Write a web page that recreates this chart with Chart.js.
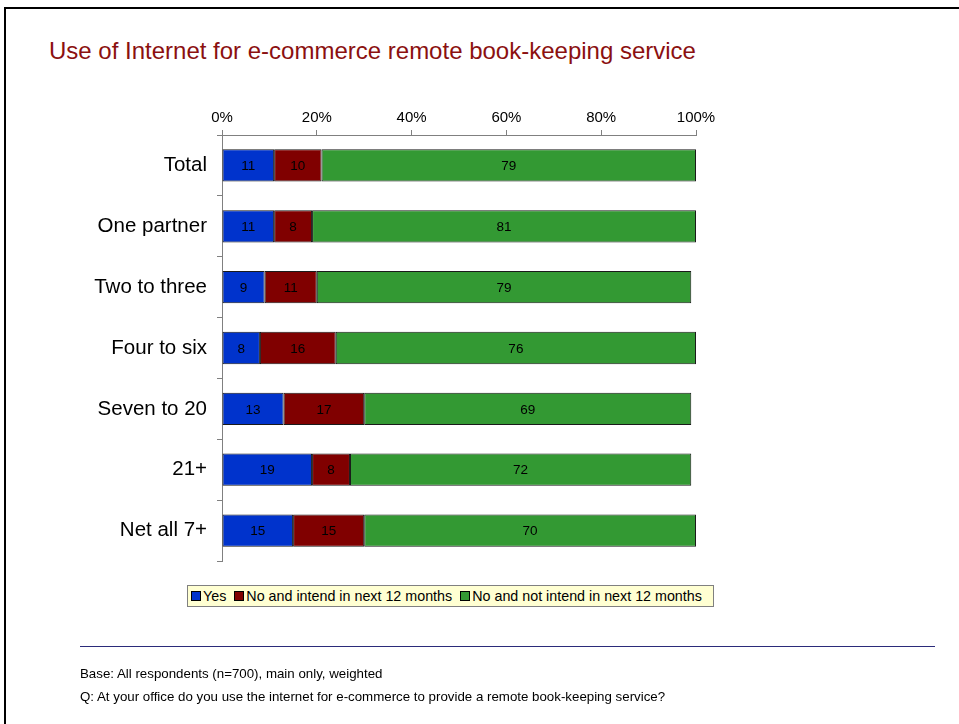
<!DOCTYPE html>
<html>
<head>
<meta charset="utf-8">
<script src="https://cdn.jsdelivr.net/npm/chart.js@4.4.1/dist/chart.umd.min.js"></script>
<style>
  body { margin: 0; background: #fff; font-family: Arial, "Liberation Sans", sans-serif; }
  #page { position: relative; width: 959px; height: 724px; overflow: hidden; }
  #frame { position: absolute; left: 4px; top: 7px; width: 970px; height: 730px;
           border-left: 2px solid #000; border-top: 2px solid #000; }
  #title { position: absolute; left: 49px; top: 37px; font-size: 24px; color: #8b1010; white-space: nowrap; }
  #chart { position: absolute; left: 0; top: 0; }
  #legend { position: absolute; left: 187px; top: 585px; width: 527px; height: 22px;
            background: #ffffd2; border: 1px solid #808080; font-size: 14.3px;
            display: flex; align-items: center; padding-left: 3px; box-sizing: border-box; white-space: nowrap; }
  #legend .sw { display: inline-block; width: 8px; height: 8px; border: 1px solid #000; margin-right: 2px; }
  #legend .it { margin-right: 8px; display: flex; align-items: center; }
  #rule { position: absolute; left: 80px; top: 646px; width: 855px; height: 0; border-top: 1px solid #2b2b7a; }
  .note { position: absolute; left: 80px; font-size: 13.3px; color: #000; white-space: nowrap; }
</style>
</head>
<body>
<div id="page">
  <div id="frame"></div>
  <div id="title">Use of Internet for e-commerce remote book-keeping service</div>
  <canvas id="chart" width="959" height="724"></canvas>
  <div id="legend"></div>
  <div id="rule"></div>
  <div class="note" style="top:666px">Base: All respondents (n=700), main only, weighted</div>
  <div class="note" style="top:689px">Q: At your office do you use the internet for e-commerce to provide a remote book-keeping service?</div>
</div>
<script>
// kategori ukuran kantor
const categories = ['Total', 'One partner', 'Two to three', 'Four to six', 'Seven to 20', '21+', 'Net all 7+'];

// persentase per jawaban
const yesValues = [11, 11, 9, 8, 13, 19, 15];
const intendValues = [10, 8, 11, 16, 17, 8, 15];
const notIntendValues = [79, 81, 79, 76, 69, 72, 70];

const seriesLabels = ['Yes', 'No and intend in next 12 months', 'No and not intend in next 12 months'];
const seriesColors = ['#0033cc', '#800000', '#339933'];
const xTicks = [0, 20, 40, 60, 80, 100];

// tulis angka di tengah tiap batang
const barValueLabels = {
    id: 'barValueLabels',
    afterDatasetsDraw(chart) {
        const ctx = chart.ctx;
        ctx.save();
        ctx.font = '13.5px Arial, "Liberation Sans", sans-serif';
        ctx.fillStyle = '#000';
        ctx.textAlign = 'center';
        ctx.textBaseline = 'middle';
        chart.data.datasets.forEach((ds, i) => {
            chart.getDatasetMeta(i).data.forEach((bar, j) => {
                const x = (bar.x + bar.base) / 2;
                ctx.fillText(ds.data[j], x, bar.y + 1);
            });
        });
        ctx.restore();
    }
};

const datasets = [yesValues, intendValues, notIntendValues].map((vals, i) => ({
    label: seriesLabels[i],
    data: vals,
    backgroundColor: seriesColors[i],
    borderColor: '#1a1a1a',
    borderWidth: 1,
    borderSkipped: false,
    categoryPercentage: 1,
    barPercentage: 0.53
}));

new Chart(document.getElementById('chart'), {
    type: 'bar',
    data: { labels: categories, datasets },
    options: {
        indexAxis: 'y',
        responsive: false,
        animation: false,
        layout: { padding: { left: 0, top: 95, right: 263, bottom: 163 } },
        plugins: { legend: { display: false }, tooltip: { enabled: false } },
        scales: {
            x: {
                position: 'top',
                stacked: true,
                min: 0,
                max: 100,
                afterBuildTicks: (axis) => { axis.ticks = xTicks.map(v => ({ value: v })); },
                afterFit: (axis) => { axis.height = 40; },
                border: { display: true, color: '#808080', width: 1 },
                grid: { drawOnChartArea: false, drawTicks: true, tickLength: 5, color: '#808080' },
                ticks: {
                    color: '#000',
                    padding: 3,
                    font: { family: 'Arial, "Liberation Sans", sans-serif', size: 15 },
                    callback: (v) => v + '%'
                }
            },
            y: {
                stacked: true,
                afterFit: (axis) => { axis.width = 222; },
                border: { display: true, color: '#808080', width: 1 },
                grid: { drawOnChartArea: false, drawTicks: true, tickLength: 5, color: '#808080', offset: true },
                ticks: {
                    color: '#000',
                    padding: 10,
                    font: { family: 'Arial, "Liberation Sans", sans-serif', size: 20.5 }
                }
            }
        }
    },
    plugins: [barValueLabels]
});

// legenda dari dataset
const legend = document.getElementById('legend');
seriesLabels.forEach((lab, i) => {
    const it = document.createElement('span');
    it.className = 'it';
    it.innerHTML = '<span class="sw" style="background:' + seriesColors[i] + '"></span>' + lab;
    legend.appendChild(it);
});
</script>
</body>
</html>
